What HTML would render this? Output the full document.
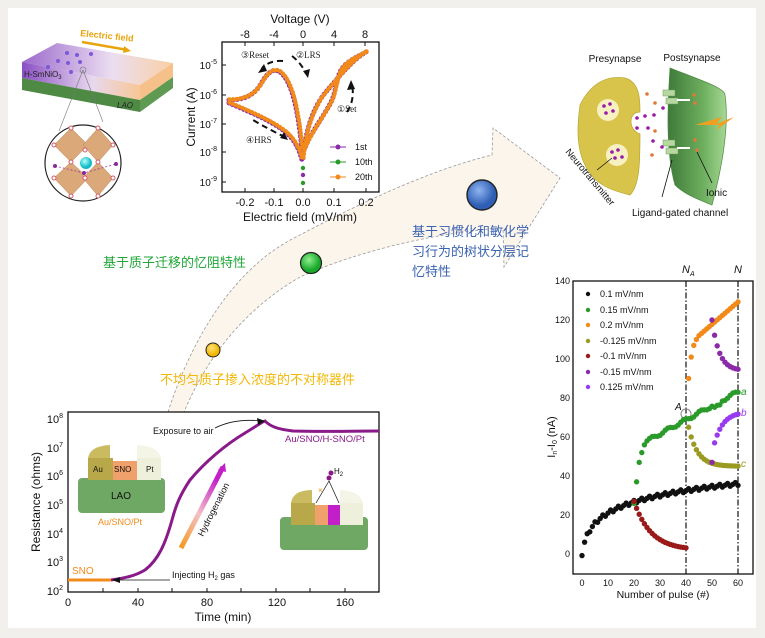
<!DOCTYPE html>
<html><head><meta charset="utf-8">
<style>
html,body{margin:0;padding:0;background:#f1f0ed;}
svg{display:block;font-family:"Liberation Sans","Noto Sans CJK SC",sans-serif;}
</style></head>
<body>
<svg id="s" width="765" height="638" viewBox="0 0 765 638" xmlns="http://www.w3.org/2000/svg">
<defs>
<linearGradient id="slab" x1="0" x2="1"><stop offset="0" stop-color="#8a4fc4"/><stop offset="0.6" stop-color="#e8d8ee"/><stop offset="1" stop-color="#f7c795"/></linearGradient>
<linearGradient id="hyd" x1="0" y1="1" x2="0.6" y2="0"><stop offset="0" stop-color="#f39a1e"/><stop offset="0.5" stop-color="#f4c0c8"/><stop offset="1" stop-color="#c21fc9"/></linearGradient>
<linearGradient id="post" x1="0" x2="1"><stop offset="0" stop-color="#3f7a3a"/><stop offset="0.6" stop-color="#6cae5e"/><stop offset="1" stop-color="#a6d894"/></linearGradient>
<radialGradient id="gb" cx="0.4" cy="0.35"><stop offset="0" stop-color="#8ff08f"/><stop offset="1" stop-color="#18a82a"/></radialGradient>
<radialGradient id="bb" cx="0.4" cy="0.35"><stop offset="0" stop-color="#8fb4f0"/><stop offset="1" stop-color="#2f5fb5"/></radialGradient>
<radialGradient id="yb" cx="0.4" cy="0.35"><stop offset="0" stop-color="#ffe27a"/><stop offset="1" stop-color="#f1b800"/></radialGradient>
<radialGradient id="cy" cx="0.4" cy="0.35"><stop offset="0" stop-color="#b6ffff"/><stop offset="1" stop-color="#12bcc8"/></radialGradient>
</defs>
<rect x="8" y="8" width="748" height="620" fill="#ffffff"/>

<!-- big arrow -->
<path d="M168,412 C188,350 228,270 298,236 C360,203 430,170 492,155 L493,128 L560,178 L504,267 L503,228 C440,232 360,250 300,277 C240,312 205,362 184,412 Z" fill="#fcf5ec" stroke="#999" stroke-width="0.8" stroke-dasharray="3,2"/>
<circle cx="213" cy="350" r="7" fill="url(#yb)" stroke="#222" stroke-width="1"/>
<circle cx="311" cy="263" r="10.5" fill="url(#gb)" stroke="#222" stroke-width="1.2"/>
<circle cx="482" cy="195" r="15" fill="url(#bb)" stroke="#222" stroke-width="1.4"/>
<text x="103" y="267" font-size="13" fill="#1fa637">基于质子迁移的忆阻特性</text>
<text x="160" y="384" font-size="13" fill="#f2b705">不均匀质子掺入浓度的不对称器件</text>
<text font-size="13" fill="#3a62b0"><tspan x="412" y="236">基于习惯化和敏化学</tspan><tspan x="412" y="256">习行为的树状分层记</tspan><tspan x="412" y="276">忆特性</tspan></text>

<!-- top-left slab -->
<polygon points="22,62 57,43 173,63 140,85" fill="url(#slab)" opacity="0.85"/>
<polygon points="22,62 140,85 140,100 22,78" fill="url(#slab)"/>
<polygon points="22,78 140,100 140,112 22,90" fill="#4f8a45"/>
<polygon points="140,85 173,63 173,77 140,100" fill="#f6c08a"/>
<polygon points="140,100 173,77 173,88 140,112" fill="#5e9a52"/>
<g fill="#7a5ad8"><circle cx="67" cy="53" r="2"/><circle cx="77" cy="55" r="2"/><circle cx="58" cy="61" r="2"/><circle cx="68" cy="63" r="2"/><circle cx="80" cy="62" r="2"/><circle cx="48" cy="67" r="2"/><circle cx="71" cy="72" r="2"/><circle cx="91" cy="54" r="2"/></g>
<text x="24" y="77" font-size="8" fill="#222">H-SmNiO<tspan font-size="6" dy="2">3</tspan></text>
<text x="117" y="108" font-size="8" font-style="italic" fill="#222">LAO</text>
<text x="80" y="36" font-size="9" font-weight="bold" fill="#e8a40c" transform="rotate(6 80 36)">Electric field</text>
<line x1="82" y1="42" x2="128" y2="50" stroke="#e8a40c" stroke-width="2.5"/>
<polygon points="131,51 124,46 123,53" fill="#e8a40c"/>
<line x1="83" y1="70" x2="59" y2="131" stroke="#777" stroke-width="0.6"/>
<line x1="83" y1="70" x2="103" y2="122" stroke="#777" stroke-width="0.6"/>
<circle cx="83" cy="70" r="3" fill="none" stroke="#777" stroke-width="0.6"/>
<circle cx="83" cy="163" r="38" fill="#fff" stroke="#222" stroke-width="1.2"/>
<g fill="#d49a62" opacity="0.85" stroke="#b7713c" stroke-width="0.5">
<polygon points="71,128 88,145 71,162 54,145"/><polygon points="98,128 113,145 98,162 83,145"/>
<polygon points="71,162 88,178 71,196 54,178"/><polygon points="98,162 113,178 98,196 83,178"/></g>
<circle cx="86" cy="163" r="6" fill="url(#cy)"/>
<g fill="#fff" stroke="#d45a6a" stroke-width="1"><circle cx="71" cy="128" r="2"/><circle cx="98" cy="128" r="2"/><circle cx="54" cy="145" r="2"/><circle cx="85" cy="150" r="2"/><circle cx="113" cy="145" r="2"/><circle cx="71" cy="162" r="2"/><circle cx="98" cy="162" r="2"/><circle cx="54" cy="178" r="2"/><circle cx="113" cy="178" r="2"/><circle cx="71" cy="196" r="2"/><circle cx="98" cy="196" r="2"/><circle cx="85" cy="178" r="2"/></g>
<g fill="#8a2a9a"><circle cx="55" cy="166" r="2"/><circle cx="84" cy="173" r="2"/><circle cx="116" cy="164" r="2"/></g>
<path d="M55,166 L84,173 L116,164" stroke="#8a2a9a" stroke-width="0.7" fill="none" stroke-dasharray="2,2"/>

<!-- IV plot -->
<text x="300" y="23" font-size="12" text-anchor="middle" fill="#111">Voltage (V)</text>
<g font-size="11" text-anchor="middle" fill="#111"><text x="245" y="38">-8</text><text x="274" y="38">-4</text><text x="303" y="38">0</text><text x="334" y="38">4</text><text x="365" y="38">8</text>
<text x="245" y="206">-0.2</text><text x="274" y="206">-0.1</text><text x="303" y="206">0.0</text><text x="334" y="206">0.1</text><text x="366" y="206">0.2</text></g>
<text x="300" y="221" font-size="12" text-anchor="middle" fill="#111">Electric field (mV/nm)</text>
<g font-size="10" text-anchor="end" fill="#111"><text x="217" y="69">10<tspan font-size="7" dy="-5">-5</tspan></text><text x="217" y="99">10<tspan font-size="7" dy="-5">-6</tspan></text><text x="217" y="128">10<tspan font-size="7" dy="-5">-7</tspan></text><text x="217" y="156">10<tspan font-size="7" dy="-5">-8</tspan></text><text x="217" y="186">10<tspan font-size="7" dy="-5">-9</tspan></text></g>
<text x="195" y="117" font-size="12" text-anchor="middle" transform="rotate(-90 195 117)" fill="#111">Current (A)</text>
<rect x="222" y="42" width="157" height="150" fill="none" stroke="#111" stroke-width="1.3"/>
<g stroke="#111" stroke-width="1"><line x1="245" y1="42" x2="245" y2="46"/><line x1="274" y1="42" x2="274" y2="46"/><line x1="303" y1="42" x2="303" y2="46"/><line x1="334" y1="42" x2="334" y2="46"/><line x1="365" y1="42" x2="365" y2="46"/>
<line x1="245" y1="192" x2="245" y2="188"/><line x1="274" y1="192" x2="274" y2="188"/><line x1="303" y1="192" x2="303" y2="188"/><line x1="334" y1="192" x2="334" y2="188"/><line x1="366" y1="192" x2="366" y2="188"/>
<line x1="222" y1="65" x2="226" y2="65"/><line x1="222" y1="95" x2="226" y2="95"/><line x1="222" y1="124" x2="226" y2="124"/><line x1="222" y1="152" x2="226" y2="152"/><line x1="222" y1="182" x2="226" y2="182"/></g>
<g fill="none" stroke-linecap="round">
<path d="M229,100 C245,100 255,95 262,82 C268,72 274,68 280,72 C290,80 297,100 302,150 M229,103 C245,110 265,118 280,128 C292,136 298,145 302,160 M303,158 C306,130 312,110 325,93 C338,78 352,60 366,52 M366,52 C352,60 345,62 340,72 C336,82 336,90 332,100 C325,115 312,130 304,150" stroke="#8a2aa8" stroke-width="5" stroke-dasharray="0,4"/>
<path d="M229,100 C245,100 255,95 262,82 C268,72 274,68 280,72 C290,80 297,100 302,150 M229,103 C245,110 265,118 280,128 C292,136 298,145 302,160 M303,158 C306,130 312,110 325,93 C338,78 352,60 366,52 M366,52 C352,60 345,62 340,72 C336,82 336,90 332,100 C325,115 312,130 304,150" stroke="#f28a1a" stroke-width="4.5" stroke-dasharray="0,3.5" transform="translate(0.5,-0.5)"/></g>
<circle cx="303" cy="175" r="2.2" fill="#8a2aa8"/><circle cx="303" cy="183" r="2.2" fill="#2a9a2a"/><circle cx="303" cy="168" r="2.2" fill="#2a9a2a"/>
<g fill="none" stroke="#111" stroke-width="2" stroke-dasharray="6,4"><path d="M283,61 Q270,60 262,68"/><path d="M292,56 Q300,62 306,73"/><path d="M347,112 Q355,100 352,84"/><path d="M285,137 Q270,130 253,120"/></g>
<g fill="#111"><polygon points="258,73 264,64 267,71"/><polygon points="308,78 303,71 310,69"/><polygon points="351,80 347,90 355,89"/><polygon points="288,140 280,138 284,132"/></g>
<g font-family="Liberation Serif,serif" font-size="9" fill="#222"><text x="241" y="58">③Reset</text><text x="296" y="58">②LRS</text><text x="337" y="112">①Set</text><text x="246" y="143">④HRS</text></g>
<g font-size="9" fill="#111"><line x1="330" y1="147" x2="346" y2="147" stroke="#8a2aa8"/><circle cx="338" cy="147" r="2.5" fill="#8a2aa8"/><text x="355" y="150">1st</text>
<line x1="330" y1="162" x2="346" y2="162" stroke="#2a9a2a"/><circle cx="338" cy="162" r="2.5" fill="#2a9a2a"/><text x="355" y="165">10th</text>
<line x1="330" y1="177" x2="346" y2="177" stroke="#f28a1a"/><circle cx="338" cy="177" r="2.5" fill="#f28a1a"/><text x="355" y="180">20th</text></g>

<!-- synapse -->
<text x="615" y="62" font-size="10" text-anchor="middle" fill="#111">Presynapse</text>
<text x="692" y="61" font-size="10" text-anchor="middle" fill="#111">Postsynapse</text>
<path d="M580,105 C590,85 605,75 625,78 C640,82 640,100 640,112 C628,112 628,130 640,134 C640,160 640,185 630,195 C610,190 595,185 585,165 C575,145 578,120 580,105 Z" fill="#d8c44a" stroke="#b8a530" stroke-width="0.7"/>
<circle cx="608" cy="110" r="11" fill="#f7f0c0"/><circle cx="617" cy="155" r="11" fill="#f7f0c0"/>
<path d="M670,68 C700,80 725,88 725,95 C730,130 720,175 712,205 C700,200 685,195 675,185 C665,150 668,100 670,68 Z" fill="url(#post)" stroke="#4c8a40" stroke-width="0.7"/>
<polygon points="695,125 722,117 716,124 734,117 715,131 720,125" fill="#f0a020"/>
<g fill="#b7d8a0" stroke="#6a9a5a" stroke-width="0.5"><rect x="663" y="90" width="12" height="6"/><rect x="666" y="98" width="12" height="6"/><rect x="663" y="140" width="12" height="6"/><rect x="666" y="148" width="12" height="6"/></g>
<g stroke="#fff" stroke-width="2"><line x1="677" y1="100" x2="690" y2="100"/><line x1="677" y1="148" x2="690" y2="148"/></g>
<g fill="#9a1aa8"><circle cx="604" cy="106" r="1.8"/><circle cx="610" cy="104" r="1.8"/><circle cx="606" cy="113" r="1.8"/><circle cx="613" cy="111" r="1.8"/><circle cx="612" cy="152" r="1.8"/><circle cx="618" cy="150" r="1.8"/><circle cx="615" cy="158" r="1.8"/><circle cx="622" cy="157" r="1.8"/><circle cx="637" cy="118" r="1.8"/><circle cx="645" cy="116" r="1.8"/><circle cx="637" cy="128" r="1.8"/><circle cx="648" cy="128" r="1.8"/><circle cx="654" cy="115" r="1.8"/><circle cx="653" cy="141" r="1.8"/><circle cx="663" cy="108" r="1.8"/><circle cx="662" cy="147" r="1.8"/></g>
<g fill="#e07a3a"><circle cx="647" cy="94" r="1.8"/><circle cx="655" cy="103" r="1.8"/><circle cx="652" cy="155" r="1.8"/><circle cx="655" cy="131" r="1.8"/><circle cx="694" cy="95" r="1.8"/><circle cx="695" cy="103" r="1.8"/><circle cx="695" cy="140" r="1.8"/><circle cx="697" cy="150" r="1.8"/></g>
<g stroke="#111" stroke-width="0.8"><line x1="612" y1="158" x2="597" y2="170"/><line x1="672" y1="160" x2="662" y2="197"/><line x1="697" y1="152" x2="712" y2="183"/></g>
<text x="565" y="152" font-size="9.5" fill="#111" transform="rotate(50 565 152)">Neurotransmitter</text>
<text x="706" y="196" font-size="10" fill="#111">Ionic</text>
<text x="632" y="216" font-size="10" fill="#111">Ligand-gated channel</text>

<!-- right plot -->
<g id="rp">
<rect x="573" y="281" width="180" height="293" fill="none" stroke="#111" stroke-width="1.3"/>
<line x1="686" y1="281" x2="686" y2="574" stroke="#111" stroke-width="1.2" stroke-dasharray="6,2,1.5,2"/>
<line x1="738" y1="281" x2="738" y2="574" stroke="#111" stroke-width="1.2" stroke-dasharray="6,2,1.5,2"/>
<text x="682" y="273" font-size="11" font-style="italic" fill="#111">N<tspan font-size="7" dy="3">A</tspan></text>
<text x="734" y="273" font-size="11" font-style="italic" fill="#111">N</text>
<g font-size="9" text-anchor="end" fill="#111"><text x="570" y="284">140</text><text x="570" y="323">120</text><text x="570" y="362">100</text><text x="570" y="401">80</text><text x="570" y="440">60</text><text x="570" y="479">40</text><text x="570" y="518">20</text><text x="570" y="557">0</text></g>
<g font-size="9" text-anchor="middle" fill="#111"><text x="582" y="586">0</text><text x="608" y="586">10</text><text x="634" y="586">20</text><text x="660" y="586">30</text><text x="686" y="586">40</text><text x="712" y="586">50</text><text x="738" y="586">60</text></g>
<text x="663" y="598" font-size="10.5" text-anchor="middle" fill="#111">Number of pulse (#)</text>
<text x="555" y="437" font-size="11" text-anchor="middle" transform="rotate(-90 555 437)" fill="#111">I<tspan font-size="7" dy="2">n</tspan><tspan dy="-2">-I</tspan><tspan font-size="7" dy="2">0</tspan><tspan dy="-2"> (nA)</tspan></text>
<g font-size="9" fill="#111"><text x="600" y="297">0.1 mV/nm</text><text x="600" y="313">0.15 mV/nm</text><text x="600" y="328">0.2 mV/nm</text><text x="600" y="344">-0.125 mV/nm</text><text x="600" y="359">-0.1 mV/nm</text><text x="600" y="375">-0.15 mV/nm</text><text x="600" y="390">0.125 mV/nm</text></g>
<g><circle cx="588" cy="294" r="2.2" fill="#111"/><circle cx="588" cy="310" r="2.2" fill="#2a9a2a"/><circle cx="588" cy="325" r="2.2" fill="#f28a1a"/><circle cx="588" cy="341" r="2.2" fill="#9a9a20"/><circle cx="588" cy="356" r="2.2" fill="#9a1a1a"/><circle cx="588" cy="372" r="2.2" fill="#8a2aa8"/><circle cx="588" cy="387" r="2.2" fill="#9a3af0"/></g>
<g font-size="10" font-style="italic"><text x="741" y="395" fill="#2a9a2a">a</text><text x="741" y="416" fill="#9a3af0">b</text><text x="741" y="467" fill="#9a9a20">c</text><text x="675" y="410" fill="#111">A</text></g>
<circle cx="686" cy="414" r="5" fill="none" stroke="#888"/>
</g>

<!-- bottom plot -->
<rect x="68" y="412" width="311" height="180" fill="none" stroke="#111" stroke-width="1.3"/>
<g font-size="11" text-anchor="end" fill="#111"><text x="63" y="423">10<tspan font-size="7" dy="-5">8</tspan></text><text x="63" y="452">10<tspan font-size="7" dy="-5">7</tspan></text><text x="63" y="480">10<tspan font-size="7" dy="-5">6</tspan></text><text x="63" y="509">10<tspan font-size="7" dy="-5">5</tspan></text><text x="63" y="538">10<tspan font-size="7" dy="-5">4</tspan></text><text x="63" y="566">10<tspan font-size="7" dy="-5">3</tspan></text><text x="63" y="595">10<tspan font-size="7" dy="-5">2</tspan></text></g>
<g font-size="11" text-anchor="middle" fill="#111"><text x="68" y="606">0</text><text x="138" y="606">40</text><text x="207" y="606">80</text><text x="277" y="606">120</text><text x="345" y="606">160</text></g>
<text x="223" y="621" font-size="12" text-anchor="middle" fill="#111">Time (min)</text>
<text x="40" y="502" font-size="12" text-anchor="middle" transform="rotate(-90 40 502)" fill="#111">Resistance (ohms)</text>
<g stroke="#111" stroke-width="1"><line x1="103" y1="592" x2="103" y2="588"/><line x1="138" y1="592" x2="138" y2="588"/><line x1="172" y1="592" x2="172" y2="588"/><line x1="207" y1="592" x2="207" y2="588"/><line x1="241" y1="592" x2="241" y2="588"/><line x1="276" y1="592" x2="276" y2="588"/><line x1="310" y1="592" x2="310" y2="588"/><line x1="345" y1="592" x2="345" y2="588"/></g>
<line x1="68" y1="580" x2="111" y2="580" stroke="#f28a1a" stroke-width="3"/>
<path d="M111,580 C125,578 135,576 145,570 C158,560 165,545 172,520 C176,505 180,495 190,480 C205,462 225,445 245,433 C255,427 262,422 265,421 C270,426 276,429 293,431 C320,432 350,431 379,431" fill="none" stroke="#8a1a8a" stroke-width="3"/>
<text x="72" y="574" font-size="10" fill="#f28a1a">SNO</text>
<line x1="170" y1="580" x2="115" y2="580" stroke="#111" stroke-width="0.8"/><polygon points="112,580 120,577 120,583" fill="#111"/>
<text x="172" y="578" font-size="9" fill="#111">Injecting H<tspan font-size="6" dy="2">2</tspan><tspan dy="-2"> gas</tspan></text>
<text x="153" y="434" font-size="9" fill="#111">Exposure to air</text>
<path d="M215,428 Q235,418 262,421" fill="none" stroke="#111" stroke-width="0.8"/><polygon points="265,421 257,418 258,425" fill="#111"/>
<text x="285" y="442" font-size="9.5" fill="#8a1a8a">Au/SNO/H-SNO/Pt</text>
<line x1="181" y1="548" x2="223" y2="467" stroke="url(#hyd)" stroke-width="5"/>
<polygon points="225,463 218,470 226,472" fill="#c21fc9"/>
<text x="203" y="537" font-size="9" fill="#111" transform="rotate(-63 203 537)">Hydrogenation</text>
<!-- left device -->
<rect x="78" y="478" width="87" height="35" rx="4" fill="#6fa865"/>
<text x="121" y="499" font-size="10" text-anchor="middle" fill="#111">LAO</text>
<rect x="88" y="458" width="25" height="22" fill="#b8a84a"/><path d="M88,458 Q90,446 110,445 L110,458Z" fill="#cbbb60"/>
<rect x="113" y="461" width="24" height="19" fill="#f0a06a"/>
<rect x="137" y="458" width="24" height="22" fill="#eef0dc"/><path d="M137,458 L137,445 Q158,446 161,458Z" fill="#f4f5e6"/>
<text x="93" y="472" font-size="8" fill="#111">Au</text><text x="114" y="472" font-size="8" fill="#111">SNO</text><text x="146" y="472" font-size="8" fill="#111">Pt</text>
<text x="98" y="525" font-size="9" fill="#f28a1a">Au/SNO/Pt</text>
<!-- right device -->
<rect x="280" y="517" width="88" height="33" rx="4" fill="#6fa865"/>
<rect x="291" y="503" width="24" height="22" fill="#b8a84a"/><path d="M291,503 Q293,490 312,490 L312,503Z" fill="#cbbb60"/>
<rect x="315" y="505" width="13" height="20" fill="#f0a06a"/><rect x="328" y="505" width="12" height="20" fill="#c21fc9"/>
<rect x="340" y="503" width="23" height="22" fill="#eef0dc"/><path d="M340,503 L340,490 Q360,491 363,503Z" fill="#f4f5e6"/>
<circle cx="329" cy="478" r="2.5" fill="#8a1a8a"/><circle cx="331" cy="473" r="2.5" fill="#8a1a8a"/>
<text x="334" y="474" font-size="8" fill="#111">H<tspan font-size="6" dy="2">2</tspan></text>
<g stroke="#111" stroke-width="0.7"><line x1="329" y1="481" x2="316" y2="503"/><line x1="329" y1="481" x2="339" y2="503"/></g>
<text x="318" y="493" font-size="8" fill="#f28a1a">×</text>
</svg>
<script>
(function(){
var g=document.getElementById('rp'),ns='http://www.w3.org/2000/svg';
function X(n){return 582+n*2.6}function Y(v){return 554-v*1.95}
function pt(n,v,c){var e=document.createElementNS(ns,'circle');e.setAttribute('cx',X(n));e.setAttribute('cy',Y(v));e.setAttribute('r',2.7);e.setAttribute('fill',c);g.appendChild(e);}
var i;
for(i=0;i<=60;i++)pt(i,36*Math.log(1+i)/Math.log(61)+((i%3)-1)*0.8,'#111');
var gr=[[20,26],[21,37],[22,47],[23,52],[24,56],[25,58]];for(i=0;i<gr.length;i++)pt(gr[i][0],gr[i][1],'#2a9a2a');
for(i=26;i<=60;i++)pt(i,58+(i-25)*0.72+Math.sin(i)*0.8-(i>50&&i<54?2:0),'#2a9a2a');
for(i=20;i<=40;i++)pt(i,2+25*Math.exp(-(i-20)/6.5),'#9a1a1a');
var or=[[41,90],[42,101],[43,107],[44,110],[45,112]];for(i=0;i<or.length;i++)pt(or[i][0],or[i][1],'#f28a1a');
for(i=46;i<=60;i++)pt(i,112+(i-45)*1.15,'#f28a1a');
for(i=41;i<=60;i++)pt(i,45+20*Math.exp(-(i-41)/3.5),'#9a9a20');
for(i=50;i<=60;i++)pt(i,94+26*Math.exp(-(i-50)/2.8),'#8a2aa8');
pt(50,47,'#8a2aa8');
for(i=51;i<=60;i++)pt(i,57+16*(1-Math.exp(-(i-51)/3.5)),'#9a3af0');
})();
</script>
</body></html>
